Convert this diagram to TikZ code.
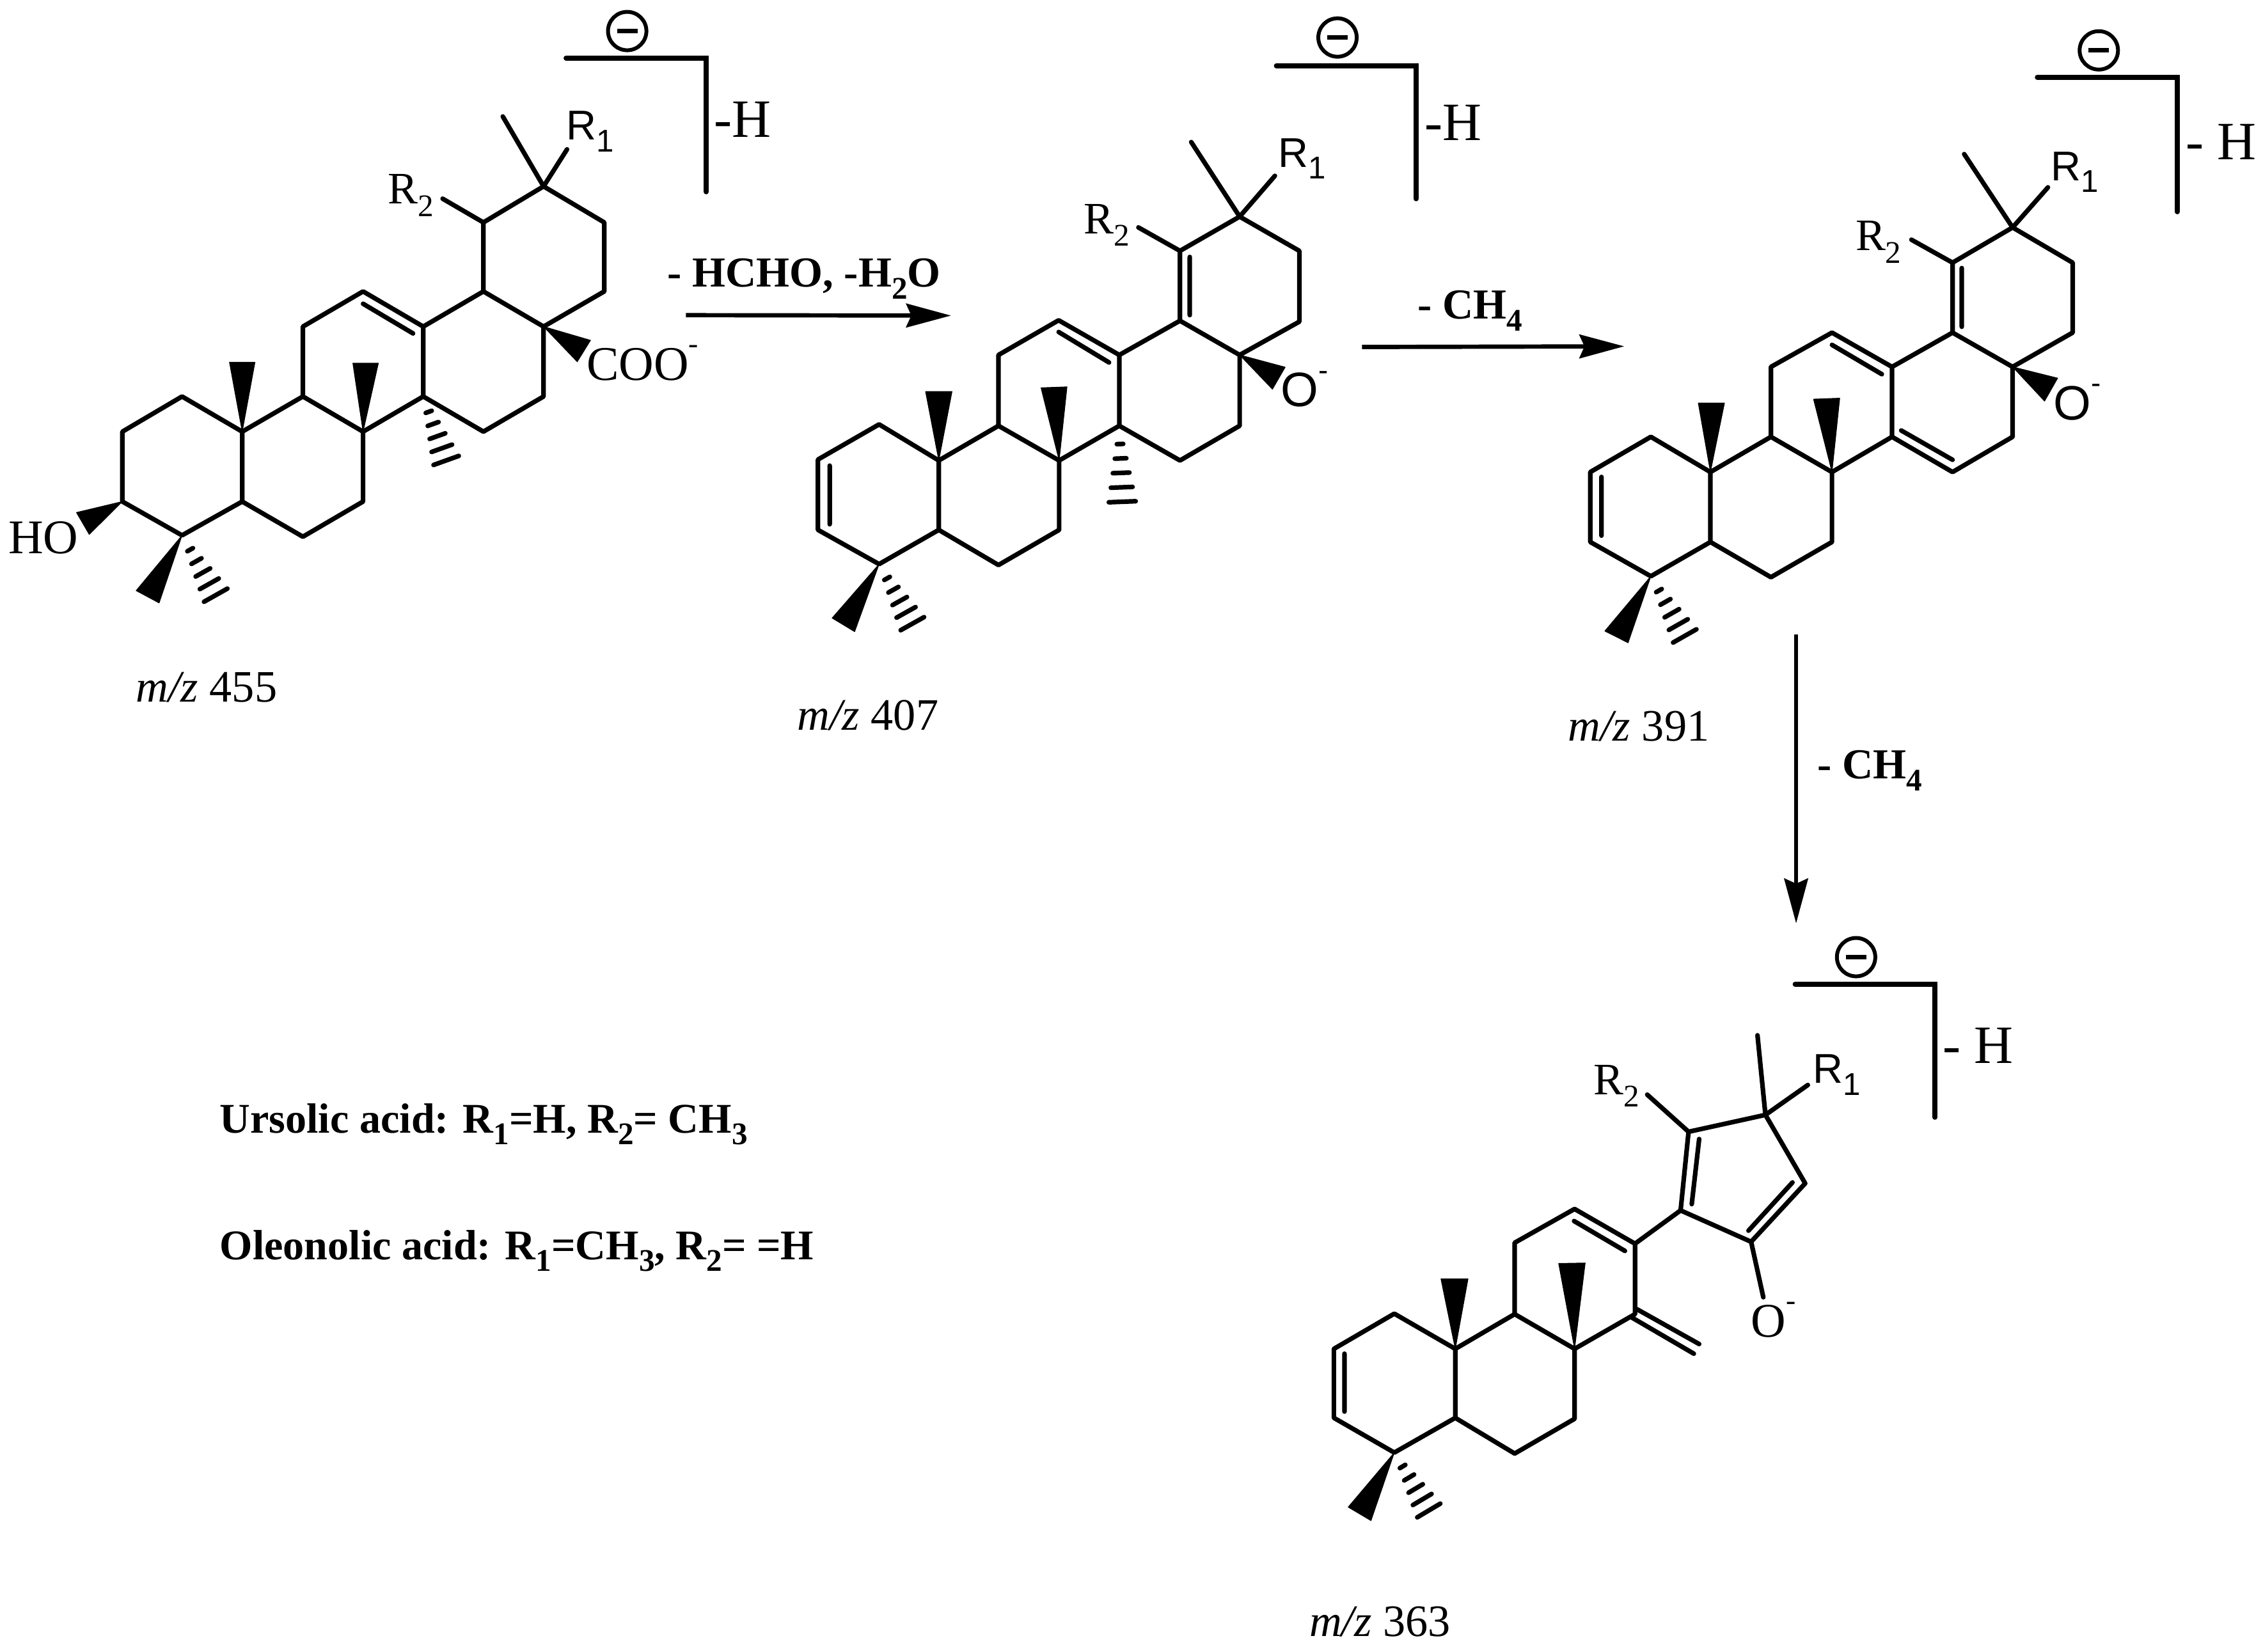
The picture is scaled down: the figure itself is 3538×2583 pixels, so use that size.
\documentclass[tikz,border=0pt]{standalone}
\usepackage{fontspec}
\setmainfont{Liberation Serif}
\newfontfamily\arialf{Liberation Sans}
\usetikzlibrary{calc,arrows.meta}
\newcommand{\sbs}[1]{\raisebox{-0.28em}{\fontsize{14}{14}\selectfont #1}}
\newcommand{\sps}[1]{\raisebox{0.55em}{\fontsize{13}{13}\selectfont #1}}
\newcommand{\hashb}[2]{%
  \foreach \t/\w in {0.24/0.05,0.43/0.09,0.62/0.13,0.81/0.17,1.0/0.21}{%
    \draw[bond] ($(#1)!\t!(#2)!\w cm!90:(#1)$) -- ($(#1)!\t!(#2)!\w cm!-90:(#1)$);}}
\tikzset{
  bond/.style={line width=2.05pt,line cap=round,line join=round},
  brack/.style={line width=2.2pt,line cap=round,line join=miter},
  wedgeb/.style={fill=black,draw=black,line width=0.3pt,line join=round},
  arrowb/.style={line width=1.9pt,-{Stealth[length=0.7cm,width=0.37cm,inset=0.08cm]}},
  chg/.style={circle,draw,line width=1.7pt,minimum size=0.6cm,inner sep=0pt},
  lab/.style={inner sep=0pt,font=\fontsize{20}{22}\selectfont},
  biglab/.style={inner sep=0pt,font=\fontsize{21.5}{24}\selectfont},
  sanslab/.style={inner sep=0pt,font=\arialf\fontsize{18.5}{20}\selectfont},
  oxlab/.style={inner sep=0pt,font=\arialf\fontsize{21.5}{24}\selectfont},
  hlab/.style={inner sep=0pt,font=\fontsize{24}{26}\selectfont},
  mz/.style={inner sep=0pt,font=\fontsize{20}{22}\selectfont},
  loss/.style={inner sep=0pt,font=\bfseries\fontsize{19}{22}\selectfont},
  legend/.style={inner sep=0pt,anchor=west,font=\bfseries\fontsize{18.8}{22}\selectfont}
}
\newcommand{\chgmark}{\rule[-0.035cm]{0.32cm}{0.07cm}}
\begin{document}
\begin{tikzpicture}[x=0.01cm,y=-0.01cm]
\useasboundingbox (0,0) rectangle (3538,2583);
% ---------- molecule 1
\begin{scope}[x={0.01cm/1.2544},y={-0.01cm/1.4}]
\foreach \n/\p in {A/{240,945},B/{357,868},C/{475,945},D/{475,1098},E/{357,1172},F/{240,1098},G/{594,868},H/{712,945},I/{712,1098},J/{594,1175},K/{830,868},L/{830,715},M/{712,638},N/{594,715},O/{948,638},P/{1066,715},Q/{1066,868},R/{948,945},S/{1185,638},T/{1185,487},U/{1066,408},V/{948,487},Me/{986,255},Ra/{1112,327},Rb/{868,435},He/{423,1303},Ke/{875,1008},Ba/{1110,127},Bb/{1385,127},Bc/{1385,420},Aa/{1345,690}}
  \coordinate (m1\n) at (\p);
\draw[bond] (m1A)--(m1B)--(m1C)--(m1D)--(m1E)--(m1F)--cycle;
\draw[bond] (m1C)--(m1G)--(m1H)--(m1I)--(m1J)--(m1D);
\draw[bond] (m1H)--(m1K)--(m1L)--(m1M)--(m1N)--(m1G);
\draw[bond] (m1L)--(m1O)--(m1P)--(m1Q)--(m1R)--(m1K);
\draw[bond] (m1P)--(m1S)--(m1T)--(m1U)--(m1V)--(m1O);
\draw[bond] (m1U)--(m1Me) (m1U)--(m1Ra) (m1V)--(m1Rb);
\draw[bond] (712,665)--(810,730);
\fill[wedgeb] (m1C)--(450,793)--(500,793)--cycle;
\fill[wedgeb] (m1H)--(692,795)--(742,795)--cycle;
\fill[wedgeb] (m1P)--(1158,745)--(1132,792)--cycle;
\fill[wedgeb] (m1F)--(150,1122)--(175,1170)--cycle;
\fill[wedgeb] (m1E)--(267,1293)--(312,1320)--cycle;
\hashb{m1E}{m1He}
\hashb{m1K}{m1Ke}
\node[biglab] (m1ho) at (85,1177) {HO};
\node[biglab] (m1coo) at (1260,795) {COO\sps{-}};
\node[sanslab] (m1r1) at (1157,288) {R\sbs{1}};
\node[lab] (m1r2) at (806,428) {R\sbs{2}};
\draw[brack] (m1Ba)--(m1Bb)--(m1Bc);
\node[chg] (m1c) at (1230,68) {\chgmark};
\node[hlab] (m1h) at (1456,262) {-H};
\node[mz] (m1z) at (405,1505) {\textit{m/z} 455};
\end{scope}
% ---------- molecule 2
\begin{scope}[shift={(1200,0)},x={0.01cm/1.3067},y={-0.01cm/1.3635}]
\foreach \n/\p in {A/{103,980},B/{228,905},C/{350,982},D/{350,1130},E/{228,1203},F/{103,1130},G/{472,908},H/{596,982},I/{596,1130},J/{472,1205},K/{719,908},L/{719,757},M/{595,683},N/{472,757},O/{843,684},P/{965,757},Q/{965,908},R/{843,982},S/{1087,686},T/{1087,535},U/{965,462},V/{843,535},Me/{866,303},Ra/{1037,375},Rb/{758,485},He/{296,1330},Ke/{725,1070},Ba/{1040,140},Bb/{1326,140},Bc/{1326,424},At/{375,673},Ab/{1215,740}}
  \coordinate (m2\n) at (\p);
\draw[bond] (m2A)--(m2B)--(m2C)--(m2D)--(m2E)--(m2F)--cycle;
\draw[bond] (m2C)--(m2G)--(m2H)--(m2I)--(m2J)--(m2D);
\draw[bond] (m2H)--(m2K)--(m2L)--(m2M)--(m2N)--(m2G);
\draw[bond] (m2L)--(m2O)--(m2P)--(m2Q)--(m2R)--(m2K);
\draw[bond] (m2P)--(m2S)--(m2T)--(m2U)--(m2V)--(m2O);
\draw[bond] (m2U)--(m2Me) (m2U)--(m2Ra) (m2V)--(m2Rb);
\draw[bond] (127,993)--(127,1118) (863,548)--(863,672) (595,708)--(698,773);
\fill[wedgeb] (m2C)--(323,835)--(377,835)--cycle;
\fill[wedgeb] (m2H)--(559,827)--(612,825)--cycle;
\fill[wedgeb] (m2P)--(1058,783)--(1032,830)--cycle;
\fill[wedgeb] (m2E)--(132,1318)--(178,1347)--cycle;
\hashb{m2E}{m2He}
\hashb{m2K}{m2Ke}
\node[oxlab] (m2o) at (1098,830) {O\sps{-}};
\node[sanslab] (m2r1) at (1092,338) {R\sbs{1}};
\node[lab] (m2r2) at (693,480) {R\sbs{2}};
\draw[brack] (m2Ba)--(m2Bb)--(m2Bc);
\node[chg] (m2c) at (1165,80) {\chgmark};
\node[hlab] (m2h) at (1402,262) {-H};
\node[mz] (m2z) at (205,1525) {\textit{m/z} 407};
\end{scope}
% ---------- molecule 3
\begin{scope}[shift={(2350,0)},x={0.01cm/1.32},y={-0.01cm/1.3067}]
\foreach \n/\p in {A/{180,965},B/{305,893},C/{428,965},D/{428,1108},E/{305,1178},F/{180,1108},G/{553,893},H/{679,965},I/{679,1108},J/{553,1180},K/{803,893},L/{803,750},M/{679,680},N/{553,750},O/{928,680},P/{1052,750},Q/{1052,893},R/{928,965},S/{1176,680},T/{1176,537},U/{1052,465},V/{928,537},Me/{952,315},Ra/{1125,383},Rb/{843,490},He/{375,1300},Ba/{1103,158},Bb/{1392,158},Bc/{1392,433},At/{250,708},Vb/{605,1297}}
  \coordinate (m3\n) at (\p);
\draw[bond] (m3A)--(m3B)--(m3C)--(m3D)--(m3E)--(m3F)--cycle;
\draw[bond] (m3C)--(m3G)--(m3H)--(m3I)--(m3J)--(m3D);
\draw[bond] (m3H)--(m3K)--(m3L)--(m3M)--(m3N)--(m3G);
\draw[bond] (m3L)--(m3O)--(m3P)--(m3Q)--(m3R)--(m3K);
\draw[bond] (m3P)--(m3S)--(m3T)--(m3U)--(m3V)--(m3O);
\draw[bond] (m3U)--(m3Me) (m3U)--(m3Ra) (m3V)--(m3Rb);
\draw[bond] (203,975)--(203,1095) (947,548)--(947,668) (679,705)--(782,765) (822,880)--(928,940);
\fill[wedgeb] (m3C)--(403,824)--(457,824)--cycle;
\fill[wedgeb] (m3H)--(641,816)--(695,814)--cycle;
\fill[wedgeb] (m3P)--(1145,773)--(1118,820)--cycle;
\fill[wedgeb] (m3E)--(210,1290)--(258,1314)--cycle;
\hashb{m3E}{m3He}
\node[oxlab] (m3o) at (1186,822) {O\sps{-}};
\node[sanslab] (m3r1) at (1180,352) {R\sbs{1}};
\node[lab] (m3r2) at (775,495) {R\sbs{2}};
\draw[brack] (m3Ba)--(m3Bb)--(m3Bc);
\node[chg] (m3c) at (1230,103) {\chgmark};
\node[hlab] (m3h) at (1482,290) {- H};
\node[mz] (m3z) at (280,1485) {\textit{m/z} 391};
\end{scope}
% ---------- molecule 4
\begin{scope}[shift={(2000,1400)},x={0.01cm/1.206},y={-0.01cm/1.3254}]
\foreach \n/\p in {A/{103,940},B/{217,867},C/{332,940},D/{332,1083},E/{217,1155},F/{103,1083},G/{444,868},H/{557,940},I/{557,1085},J/{444,1157},K/{671,868},L/{671,722},M/{557,650},N/{444,720},a/{757,653},b/{772,490},c/{917,455},d/{992,597},e/{890,718},Oe/{913,833},Me/{902,290},Ra/{997,393},Rb/{694,413},He/{282,1275},Ba/{973,184},Bb/{1237,184},Bc/{1237,460},Vt/{975,58}}
  \coordinate (m4\n) at (\p);
\draw[bond] (m4A)--(m4B)--(m4C)--(m4D)--(m4E)--(m4F)--cycle;
\draw[bond] (m4C)--(m4G)--(m4H)--(m4I)--(m4J)--(m4D);
\draw[bond] (m4H)--(m4K)--(m4L)--(m4M)--(m4N)--(m4G);
\draw[bond] (m4L)--(m4a)--(m4b)--(m4c)--(m4d)--(m4e)--(m4a);
\draw[bond] (m4e)--(m4Oe) (m4c)--(m4Me) (m4c)--(m4Ra) (m4b)--(m4Rb);
\draw[bond] (123,950)--(123,1070) (556,675)--(652,737) (778,640)--(792,505) (968,595)--(885,695);
\draw[bond] (675,858)--(792,930) (665,875)--(782,950);
\fill[wedgeb] (m4C)--(305,795)--(356,795)--cycle;
\fill[wedgeb] (m4H)--(527,763)--(577,762)--cycle;
\fill[wedgeb] (m4E)--(130,1268)--(173,1296)--cycle;
\hashb{m4E}{m4He}
\node[biglab] (m4o) at (932,880) {O\sps{-}};
\node[sanslab] (m4r1) at (1052,372) {R\sbs{1}};
\node[lab] (m4r2) at (636,395) {R\sbs{2}};
\draw[brack] (m4Ba)--(m4Bb)--(m4Bc);
\node[chg] (m4ch) at (1088,128) {\chgmark};
\node[hlab] (m4h) at (1318,312) {- H};
\node[mz] (m4z) at (190,1505) {\textit{m/z} 363};
\end{scope}
% ---------- arrows and captions
\draw[arrowb] (m1Aa) -- (m2At);
\draw[arrowb] (m2Ab) -- (m3At);
\draw[arrowb] (m3Vb) -- (m3Vb |- m4Vt);
\node[loss] (l1) at (1257,436) {- HCHO, -H\sbs{2}O};
\node[loss] (l2) at (2298,486) {- CH\sbs{4}};
\node[loss] (l3) at (2923,1205) {- CH\sbs{4}};
\node[legend] (u) at (343,1758) {Ursolic acid: R\sbs{1}=H, R\sbs{2}= CH\sbs{3}};
\node[legend] (o) at (343,1956) {Oleonolic acid: R\sbs{1}=CH\sbs{3}, R\sbs{2}= =H};
\end{tikzpicture}
\end{document}
